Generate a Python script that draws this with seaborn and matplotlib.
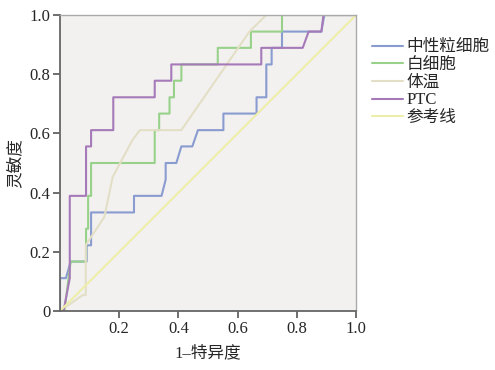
import numpy as np
import pandas as pd
import seaborn as sns
import matplotlib.pyplot as plt

# ROC step points (1-specificity, sensitivity)
neut_x = [0, 0, 0.02, 0.036, 0.09, 0.09, 0.105, 0.105, 0.25, 0.25, 0.343, 0.357, 0.357, 0.393,
          0.41, 0.447, 0.466, 0.552, 0.552, 0.664, 0.664, 0.697, 0.697, 0.715, 0.715, 0.75,
          0.75, 0.883, 0.893, 1.0]
neut_y = [0, 0.111, 0.111, 0.167, 0.167, 0.222, 0.222, 0.333, 0.333, 0.389, 0.389, 0.444, 0.5, 0.5,
          0.556, 0.556, 0.611, 0.611, 0.667, 0.667, 0.722, 0.722, 0.833, 0.833, 0.889, 0.889,
          0.944, 0.944, 1.0, 1.0]

wbc_x = [0, 0.015, 0.036, 0.088, 0.088, 0.095, 0.095, 0.105, 0.105, 0.32, 0.32, 0.335, 0.335,
         0.37, 0.37, 0.385, 0.385, 0.41, 0.41, 0.533, 0.533, 0.645, 0.645, 0.75, 0.75, 1.0]
wbc_y = [0, 0, 0.167, 0.167, 0.278, 0.278, 0.389, 0.389, 0.5, 0.5, 0.611, 0.611, 0.667,
         0.667, 0.722, 0.722, 0.778, 0.778, 0.833, 0.833, 0.889, 0.889, 0.944, 0.944, 1.0, 1.0]

temp_x = [0, 0.077, 0.087, 0.087, 0.105, 0.15, 0.178, 0.245, 0.27, 0.41, 0.64, 0.697, 1.0]
temp_y = [0, 0.054, 0.054, 0.222, 0.25, 0.318, 0.453, 0.578, 0.611, 0.611, 0.944, 1.0, 1.0]

ptc_x = [0, 0.012, 0.033, 0.033, 0.088, 0.088, 0.105, 0.105, 0.18, 0.18, 0.32, 0.32, 0.376,
         0.376, 0.68, 0.68, 0.82, 0.84, 0.883, 0.89, 1.0]
ptc_y = [0, 0, 0.111, 0.389, 0.389, 0.556, 0.556, 0.611, 0.611, 0.722, 0.722, 0.778, 0.778,
         0.833, 0.833, 0.889, 0.889, 0.944, 0.944, 1.0, 1.0]

ref_x = [0, 1]
ref_y = [0, 1]

names = ['中性粒细胞', '白细胞', '体温', 'PTC', '参考线']
colors = ['#8a9bd0', '#98d28a', '#e3dfc6', '#a679b8', '#eeeeaa']

frames = []
for name, xs, ys in zip(names, [neut_x, wbc_x, temp_x, ptc_x, ref_x],
                        [neut_y, wbc_y, temp_y, ptc_y, ref_y]):
    frames.append(pd.DataFrame({'fpr': xs, 'tpr': ys, 'var': name}))
df = pd.concat(frames, ignore_index=True)

sns.set_style('white')
plt.rcParams['font.family'] = ['Liberation Serif', 'Noto Sans CJK SC']

fig = plt.figure(figsize=(4.95, 3.7), dpi=100)
ax = fig.add_axes([60 / 495, 1 - 311 / 370, 296 / 495, 296 / 370])
ax.set_facecolor('#f2f1f0')

sns.lineplot(data=df, x='fpr', y='tpr', hue='var',
             palette=dict(zip(names, colors)), hue_order=names, sort=False,
             estimator=None, linewidth=1.5, ax=ax)

ax.set_xlim(0, 1)
ax.set_ylim(0, 1)
ax.set_xticks([0.2, 0.4, 0.6, 0.8, 1.0])
ax.set_xticklabels(['0.2', '0.4', '0.6', '0.8', '1.0'])
ax.set_yticks([0, 0.2, 0.4, 0.6, 0.8, 1.0])
ax.set_yticklabels(['0', '0.2', '0.4', '0.6', '0.8', '1.0'])
ax.tick_params(axis='both', direction='out', length=5, width=1.2, color='#555555',
               labelsize=12, pad=2, bottom=True, left=True)
ax.set_xlabel('1–特异度', fontsize=12, labelpad=6)
ax.set_ylabel('灵敏度', fontsize=12, labelpad=4)

for side in ['left', 'bottom']:
    ax.spines[side].set_color('#666666')
    ax.spines[side].set_linewidth(1.3)
for side in ['top', 'right']:
    ax.spines[side].set_color('#aaaaaa')
    ax.spines[side].set_linewidth(1.0)

ax.legend(loc='upper left', bbox_to_anchor=(1.03, 0.94), frameon=False, fontsize=12,
          handlelength=1.9, handletextpad=0.2, labelspacing=0.1, borderaxespad=0)

plt.savefig('out.png', dpi=100)
